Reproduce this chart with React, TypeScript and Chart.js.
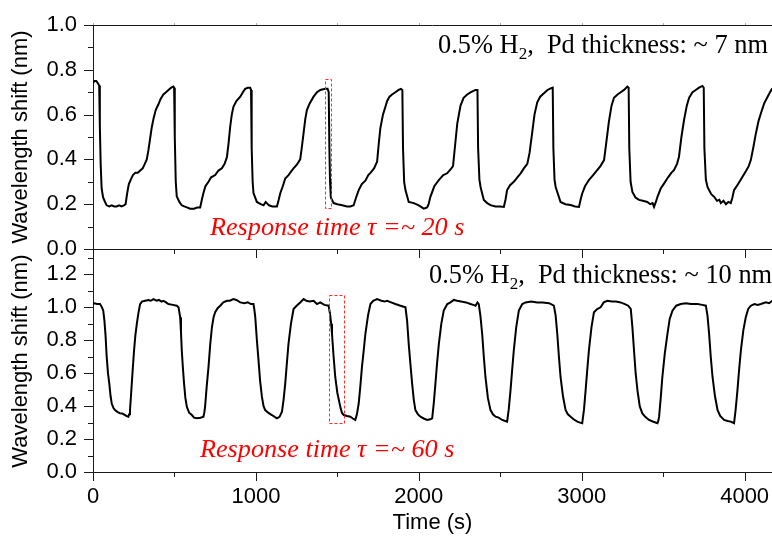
import React, { useEffect, useRef } from "react";
import { Chart, registerables } from "chart.js";

Chart.register(...registerables);

// ---------- DATA ----------
const timeTop = [
  0, 8, 20, 30, 38, 42, 47, 53, 62, 74, 84, 100, 115, 130, 145, 160, 175, 190, 200, 210, 220, 232, 245, 260, 275, 290, 305, 318, 330, 340, 350, 360, 371, 385, 401, 415, 432, 448, 463, 480, 494, 498,
  502, 508, 514, 530, 545, 560, 580, 596, 620, 640, 658, 668, 678, 690, 709, 725, 750, 770, 791, 808, 822, 832, 842, 852, 862, 880, 904, 920, 934, 950, 965, 970,
  974, 980, 985, 1006, 1030, 1047, 1060, 1067, 1080, 1100, 1129, 1140, 1150, 1165, 1180, 1200, 1220, 1231, 1250, 1272, 1283, 1293, 1303, 1313, 1330, 1354, 1375, 1395, 1426, 1440, 1447,
  1451, 1455, 1460, 1477, 1500, 1530, 1559, 1580, 1600, 1615, 1631, 1650, 1672, 1690, 1703, 1725, 1744, 1754, 1764, 1780, 1795, 1805, 1820, 1836, 1856, 1876, 1890, 1899,
  1903, 1910, 1918, 1938, 1969, 2000, 2030, 2051, 2060, 2071, 2095, 2123, 2150, 2174, 2195, 2210, 2225, 2236, 2256, 2275, 2297, 2320, 2348, 2360,
  2364, 2372, 2379, 2399, 2420, 2440, 2470, 2500, 2522, 2532, 2542, 2560, 2583, 2605, 2625, 2645, 2666, 2680, 2696, 2710, 2727, 2745, 2768, 2790, 2809, 2822,
  2826, 2833, 2840, 2870, 2900, 2932, 2960, 2983, 2993, 3003, 3020, 3044, 3070, 3096, 3115, 3137, 3150, 3167, 3183, 3198, 3220, 3239, 3260, 3280, 3288,
  3292, 3300, 3311, 3330, 3352, 3375, 3403, 3420, 3435, 3444, 3455, 3465, 3485, 3506, 3530, 3550, 3567, 3585, 3597, 3612, 3628, 3645, 3659, 3680, 3700, 3720, 3741, 3749,
  3753, 3762, 3772, 3795, 3813, 3830, 3845, 3854, 3870, 3885, 3900, 3915, 3925, 3935, 3960, 3987, 4010, 4025, 4038, 4055, 4069, 4085, 4100, 4120, 4141, 4160, 4170,
];
const shiftTop = [
  0.74, 0.75, 0.75, 0.74, 0.73, 0.55, 0.38, 0.27, 0.23, 0.21, 0.195, 0.19, 0.195, 0.19, 0.19, 0.195, 0.19, 0.195, 0.2, 0.25, 0.29, 0.31, 0.33, 0.34, 0.34, 0.35, 0.36, 0.38, 0.4, 0.44, 0.49, 0.54, 0.58, 0.62, 0.645, 0.67, 0.69, 0.7, 0.71, 0.72, 0.725, 0.72,
  0.5, 0.3, 0.235, 0.21, 0.195, 0.19, 0.185, 0.18, 0.18, 0.185, 0.185, 0.22, 0.25, 0.28, 0.3, 0.32, 0.33, 0.35, 0.36, 0.38, 0.41, 0.47, 0.545, 0.6, 0.635, 0.66, 0.68, 0.7, 0.715, 0.72, 0.72, 0.71,
  0.45, 0.3, 0.25, 0.21, 0.2, 0.195, 0.21, 0.205, 0.195, 0.19, 0.19, 0.22, 0.25, 0.28, 0.315, 0.33, 0.35, 0.36, 0.375, 0.4, 0.46, 0.52, 0.58, 0.62, 0.65, 0.68, 0.7, 0.71, 0.715, 0.715, 0.7,
  0.45, 0.3, 0.23, 0.205, 0.2, 0.195, 0.19, 0.19, 0.195, 0.23, 0.263, 0.29, 0.305, 0.33, 0.34, 0.36, 0.39, 0.47, 0.54, 0.6, 0.635, 0.66, 0.68, 0.69, 0.7, 0.71, 0.715, 0.71,
  0.45, 0.3, 0.263, 0.21, 0.205, 0.195, 0.18, 0.185, 0.2, 0.233, 0.28, 0.308, 0.33, 0.338, 0.355, 0.37, 0.48, 0.56, 0.64, 0.675, 0.69, 0.7, 0.71, 0.71,
  0.45, 0.31, 0.277, 0.219, 0.205, 0.196, 0.19, 0.19, 0.188, 0.22, 0.263, 0.285, 0.3, 0.32, 0.338, 0.36, 0.38, 0.43, 0.52, 0.6, 0.655, 0.68, 0.695, 0.71, 0.717, 0.72,
  0.45, 0.31, 0.277, 0.21, 0.2, 0.196, 0.19, 0.188, 0.22, 0.248, 0.28, 0.308, 0.33, 0.353, 0.37, 0.397, 0.47, 0.57, 0.64, 0.675, 0.69, 0.7, 0.71, 0.725, 0.72,
  0.45, 0.3, 0.255, 0.23, 0.219, 0.215, 0.21, 0.2, 0.205, 0.188, 0.21, 0.233, 0.27, 0.293, 0.32, 0.34, 0.353, 0.38, 0.412, 0.5, 0.576, 0.64, 0.675, 0.7, 0.71, 0.72, 0.728, 0.72,
  0.45, 0.31, 0.277, 0.245, 0.233, 0.215, 0.22, 0.205, 0.215, 0.2, 0.21, 0.205, 0.23, 0.263, 0.29, 0.323, 0.35, 0.37, 0.397, 0.46, 0.516, 0.57, 0.606, 0.65, 0.68, 0.705, 0.717,
];

const timeBottom = [
  0, 10, 25, 43, 55, 63, 70, 77, 84, 92, 100, 108, 115, 125, 135, 150, 166, 180, 197, 210, 217, 222, 227, 233, 238, 245, 252, 260, 269, 278, 289, 300, 320, 340, 355, 371, 390, 405, 420, 432, 448, 463, 490, 514, 525,
  535, 540, 545, 552, 559, 567, 576, 590, 607, 620, 637, 660, 678, 683, 688, 698, 709, 720, 730, 740, 750, 765, 781, 800, 822, 840, 862, 880, 904, 930, 950, 970, 985,
  990, 996, 1006, 1016, 1026, 1037, 1047, 1057, 1075, 1098, 1115, 1129, 1145, 1160, 1170, 1180, 1190, 1200, 1215, 1231, 1250, 1272, 1293, 1310, 1330, 1354, 1375, 1395, 1420, 1446,
  1455, 1462, 1467, 1477, 1487, 1500, 1518, 1528, 1539, 1560, 1580, 1595, 1610, 1620, 1631, 1641, 1651, 1662, 1672, 1688, 1703, 1720, 1744, 1770, 1790, 1805, 1830, 1856, 1887, 1918,
  1928, 1938, 1949, 1959, 1969, 1979, 1995, 2010, 2030, 2051, 2070, 2082, 2092, 2102, 2112, 2123, 2138, 2153, 2175, 2194, 2215, 2235, 2260, 2290, 2317, 2335, 2348, 2360, 2368,
  2378, 2389, 2399, 2409, 2424, 2440, 2455, 2471, 2490, 2512, 2530, 2542, 2552, 2563, 2573, 2583, 2598, 2614, 2635, 2655, 2690, 2727, 2760, 2800, 2829,
  2840, 2850, 2860, 2870, 2885, 2901, 2915, 2932, 2950, 2973, 2990, 3003, 3014, 3024, 3034, 3044, 3060, 3075, 3095, 3116, 3135, 3157, 3185, 3210, 3239, 3265, 3285, 3301,
  3311, 3321, 3331, 3342, 3356, 3372, 3390, 3413, 3440, 3465, 3470, 3475, 3485, 3495, 3510, 3526, 3540, 3557, 3580, 3608, 3640, 3670, 3711, 3740, 3762,
  3772, 3782, 3792, 3803, 3818, 3834, 3850, 3874, 3895, 3915, 3935, 3945, 3956, 3966, 3977, 3992, 4007, 4022, 4038, 4060, 4080, 4100, 4130, 4150, 4170,
];
const shiftBottom = [
  1.02, 1.025, 1.02, 1.02, 1.0, 0.98, 0.92, 0.83, 0.7, 0.6, 0.537, 0.46, 0.416, 0.39, 0.376, 0.365, 0.356, 0.355, 0.346, 0.338, 0.336, 0.35, 0.376, 0.46, 0.537, 0.64, 0.738, 0.83, 0.899, 0.96, 1.02, 1.035, 1.04, 1.045, 1.04, 1.05, 1.04, 1.045, 1.035, 1.04, 1.03, 1.02, 1.015, 1.01, 1.0,
  0.94, 0.85, 0.738, 0.63, 0.537, 0.45, 0.396, 0.36, 0.346, 0.33, 0.326, 0.33, 0.336, 0.36, 0.396, 0.52, 0.638, 0.78, 0.879, 0.94, 0.97, 0.995, 1.01, 1.03, 1.04, 1.04, 1.05, 1.045, 1.03, 1.025, 1.03, 1.02, 1.02,
  0.99, 0.94, 0.8, 0.678, 0.55, 0.456, 0.4, 0.376, 0.36, 0.346, 0.335, 0.326, 0.335, 0.366, 0.44, 0.537, 0.66, 0.778, 0.9, 0.99, 1.01, 1.03, 1.05, 1.04, 1.035, 1.04, 1.02, 1.03, 1.015, 1.01,
  0.96, 0.9, 0.84, 0.7, 0.577, 0.48, 0.396, 0.36, 0.346, 0.34, 0.336, 0.325, 0.316, 0.35, 0.416, 0.52, 0.638, 0.74, 0.838, 0.95, 1.02, 1.04, 1.05, 1.04, 1.035, 1.04, 1.03, 1.02, 1.01, 1.0,
  0.92, 0.778, 0.65, 0.537, 0.44, 0.376, 0.35, 0.336, 0.325, 0.316, 0.32, 0.326, 0.42, 0.537, 0.66, 0.778, 0.9, 0.98, 1.02, 1.03, 1.045, 1.04, 1.035, 1.03, 1.02, 1.015, 1.01, 1.03, 1.02,
  0.95, 0.838, 0.7, 0.577, 0.45, 0.376, 0.35, 0.336, 0.33, 0.316, 0.31, 0.306, 0.38, 0.497, 0.62, 0.738, 0.88, 0.98, 1.02, 1.03, 1.035, 1.03, 1.03, 1.025, 1.01,
  0.95, 0.838, 0.7, 0.577, 0.46, 0.376, 0.35, 0.336, 0.32, 0.306, 0.3, 0.296, 0.38, 0.497, 0.62, 0.738, 0.88, 0.97, 0.99, 1.0, 1.03, 1.04, 1.035, 1.035, 1.03, 1.02, 1.01, 0.99,
  0.88, 0.738, 0.6, 0.497, 0.4, 0.356, 0.335, 0.316, 0.305, 0.296, 0.31, 0.336, 0.45, 0.577, 0.72, 0.838, 0.93, 0.98, 1.01, 1.02, 1.025, 1.02, 1.02, 1.015, 1.01,
  0.95, 0.838, 0.7, 0.577, 0.46, 0.376, 0.34, 0.316, 0.31, 0.306, 0.296, 0.38, 0.497, 0.62, 0.738, 0.86, 0.94, 0.99, 1.01, 1.02, 1.015, 1.02, 1.03, 1.025, 1.04,
];

const xRange = [0, 4168];
const yRangeTop = [0, 1.0];
const yRangeBottom = [0, 1.347];
const xTicks = [0, 500, 1000, 1500, 2000, 2500, 3000, 3500, 4000];
const xLabeled = [0, 1000, 2000, 3000, 4000];
const yTicksTop = [0, 0.1, 0.2, 0.3, 0.4, 0.5, 0.6, 0.7, 0.8, 0.9, 1.0];
const yTicksBottom = [0, 0.1, 0.2, 0.3, 0.4, 0.5, 0.6, 0.7, 0.8, 0.9, 1.0, 1.1, 1.2, 1.3];
const yLabeled = [0, 0.2, 0.4, 0.6, 0.8, 1.0, 1.2];

const annotTop = ["0.5% H", "2", ",  Pd thickness: ~ 7 nm"];
const annotBottom = ["0.5% H", "2", ",  Pd thickness: ~ 10 nm"];
const responseTop = "Response time \u03C4 =~ 20 s";
const responseBottom = "Response time \u03C4 =~ 60 s";
const boxTopX = [1422, 1461];
const boxTopY = [0.185, 0.758];
const boxBottomX = [1449, 1538];
const boxBottomY = [0.296, 1.076];

const xTitle = "Time (s)";
const yTitle = "Wavelength shift (nm)";

// ---------- STYLE ----------
const SANS = "'Liberation Sans', Arial, sans-serif";
const SERIF = "'Liberation Serif', 'Times New Roman', serif";
const AXIS = "#1a1a1a";

const isIn = (arr: number[], v: number) => arr.some((a) => Math.abs(a - v) < 1e-6);

function toPoints(xs: number[], ys: number[]) {
  return xs.map((x, i) => ({ x, y: ys[i] }));
}

function makePlugin(cfg: {
  topBorder: boolean;
  annot: string[];
  annotX: number;
  annotY: number;
  resp: string;
  respX: number;
  respY: number;
  boxX: number[];
  boxY: number[];
}) {
  return {
    id: "panelDeco",
    afterDraw(chart: any) {
      const ctx = chart.ctx as CanvasRenderingContext2D;
      const { left, right, top, bottom } = chart.chartArea;
      const xs = chart.scales.x;
      const ys = chart.scales.y;
      ctx.save();
      ctx.strokeStyle = AXIS;
      ctx.lineWidth = 1;
      // x ticks
      for (const v of xTicks) {
        const px = Math.round(xs.getPixelForValue(v)) + 0.5;
        const len = isIn(xLabeled, v) ? 9 : 5;
        ctx.beginPath();
        ctx.moveTo(px, bottom);
        ctx.lineTo(px, bottom + len);
        ctx.stroke();
        if (cfg.topBorder) {
          ctx.save();
          ctx.strokeStyle = "#aaa";
          ctx.beginPath();
          ctx.moveTo(px, top);
          ctx.lineTo(px, top - 2);
          ctx.stroke();
          ctx.restore();
        }
      }
      // y ticks
      for (const t of ys.ticks) {
        const py = Math.round(ys.getPixelForValue(t.value)) + 0.5;
        const len = isIn(yLabeled, t.value) ? 9 : 5;
        ctx.beginPath();
        ctx.moveTo(left, py);
        ctx.lineTo(left - len, py);
        ctx.stroke();
      }
      if (cfg.topBorder) {
        const py = Math.round(top) + 0.5;
        ctx.beginPath();
        ctx.moveTo(left, py);
        ctx.lineTo(right, py);
        ctx.stroke();
      }
      ctx.restore();

      // dashed box
      const bx0 = Math.round(xs.getPixelForValue(cfg.boxX[0])) + 0.5;
      const bx1 = Math.round(xs.getPixelForValue(cfg.boxX[1])) + 0.5;
      const by0 = Math.round(ys.getPixelForValue(cfg.boxY[1])) + 0.5;
      const by1 = Math.round(ys.getPixelForValue(cfg.boxY[0])) + 0.5;
      ctx.save();
      ctx.strokeStyle = "#ff2a2a";
      ctx.lineWidth = 1;
      ctx.setLineDash([3, 2]);
      ctx.beginPath();
      ctx.moveTo(bx0, by0);
      ctx.lineTo(bx1, by0);
      ctx.lineTo(bx1, by1);
      ctx.lineTo(bx0, by1);
      ctx.closePath();
      ctx.stroke();
      ctx.restore();

      // annotation with subscript
      ctx.save();
      ctx.fillStyle = "#000";
      ctx.textBaseline = "alphabetic";
      ctx.textAlign = "left";
      ctx.font = `26.4px ${SERIF}`;
      let x = cfg.annotX;
      ctx.fillText(cfg.annot[0], x, cfg.annotY);
      x += ctx.measureText(cfg.annot[0]).width;
      ctx.font = `17px ${SERIF}`;
      ctx.fillText(cfg.annot[1], x, cfg.annotY + 6);
      x += ctx.measureText(cfg.annot[1]).width;
      ctx.font = `26.4px ${SERIF}`;
      ctx.fillText(cfg.annot[2], x, cfg.annotY);
      // response time
      ctx.fillStyle = "#ff0000";
      ctx.font = `italic 26.2px ${SERIF}`;
      ctx.fillText(cfg.resp, cfg.respX, cfg.respY);
      ctx.restore();
    },
  };
}

function baseOptions(opts: {
  yRange: number[];
  yTicks: number[];
  padTop: number;
  xHeight: number;
  showX: boolean;
}) {
  return {
    responsive: false,
    animation: false as const,
    devicePixelRatio: 1,
    layout: { padding: { top: opts.padTop, left: 0, right: 0, bottom: 0 } },
    plugins: { legend: { display: false }, tooltip: { enabled: false } },
    elements: { point: { radius: 0 }, line: { tension: 0 } },
    scales: {
      x: {
        type: "linear" as const,
        min: xRange[0],
        max: xRange[1],
        grid: { display: false, drawTicks: true, tickLength: 9 },
        border: { display: true, color: AXIS, width: 1 },
        afterBuildTicks: (s: any) => {
          s.ticks = xTicks.map((v) => ({ value: v }));
        },
        ticks: {
          display: opts.showX,
          autoSkip: false,
          maxRotation: 0,
          minRotation: 0,
          padding: 3,
          color: "#000",
          font: { family: SANS, size: 22 },
          callback: (v: any) => (isIn(xLabeled, Number(v)) ? String(Math.round(Number(v))) : ""),
        },
        title: {
          display: opts.showX,
          text: xTitle,
          color: "#000",
          font: { family: SANS, size: 22 },
          padding: { top: 0, bottom: 4 },
        },
        afterFit: (s: any) => {
          s.height = opts.xHeight;
          s.paddingLeft = 0;
          s.paddingRight = 0;
        },
      },
      y: {
        type: "linear" as const,
        min: opts.yRange[0],
        max: opts.yRange[1],
        grid: { display: false, drawTicks: true, tickLength: 9 },
        border: { display: true, color: AXIS, width: 1 },
        afterBuildTicks: (s: any) => {
          s.ticks = opts.yTicks.map((v) => ({ value: v }));
        },
        ticks: {
          autoSkip: false,
          padding: 7,
          color: "#000",
          font: { family: SANS, size: 22 },
          callback: (v: any) => (isIn(yLabeled, Number(v)) ? Number(v).toFixed(1) : ""),
        },
        title: {
          display: true,
          text: yTitle,
          color: "#000",
          font: { family: SANS, size: 22 },
          padding: { top: 8, bottom: 0 },
        },
        afterFit: (s: any) => {
          s.width = 93;
        },
      },
    },
  };
}

export default function App() {
  const topRef = useRef<HTMLCanvasElement>(null);
  const botRef = useRef<HTMLCanvasElement>(null);

  useEffect(() => {
    document.body.style.margin = "0";
    const top = new Chart(topRef.current as HTMLCanvasElement, {
      type: "line",
      data: {
        datasets: [
          {
            data: toPoints(timeTop, shiftTop),
            borderColor: "#000",
            borderWidth: 2,
            pointRadius: 0,
            fill: false,
          },
        ],
      },
      options: baseOptions({ yRange: yRangeTop, yTicks: yTicksTop, padTop: 25, xHeight: 31, showX: false }) as any,
      plugins: [
        makePlugin({
          topBorder: true,
          annot: annotTop,
          annotX: 438,
          annotY: 53,
          resp: responseTop,
          respX: 210,
          respY: 235,
          boxX: boxTopX,
          boxY: boxTopY,
        }),
      ],
    });
    const bot = new Chart(botRef.current as HTMLCanvasElement, {
      type: "line",
      data: {
        datasets: [
          {
            data: toPoints(timeBottom, shiftBottom),
            borderColor: "#000",
            borderWidth: 2,
            pointRadius: 0,
            fill: false,
          },
        ],
      },
      options: baseOptions({ yRange: yRangeBottom, yTicks: yTicksBottom, padTop: 19, xHeight: 68, showX: true }) as any,
      plugins: [
        makePlugin({
          topBorder: false,
          annot: annotBottom,
          annotX: 429,
          annotY: 283 - 230,
          resp: responseBottom,
          respX: 200,
          respY: 457 - 230,
          boxX: boxBottomX,
          boxY: boxBottomY,
        }),
      ],
    });
    return () => {
      top.destroy();
      bot.destroy();
    };
  }, []);

  return (
    <div style={{ position: "fixed", left: 0, top: 0, width: 772, height: 540, background: "#fff" }}>
      <canvas ref={topRef} width={772} height={280} style={{ position: "absolute", left: 0, top: 0, width: 772, height: 280 }} />
      <canvas ref={botRef} width={772} height={310} style={{ position: "absolute", left: 0, top: 230, width: 772, height: 310 }} />
    </div>
  );
}
